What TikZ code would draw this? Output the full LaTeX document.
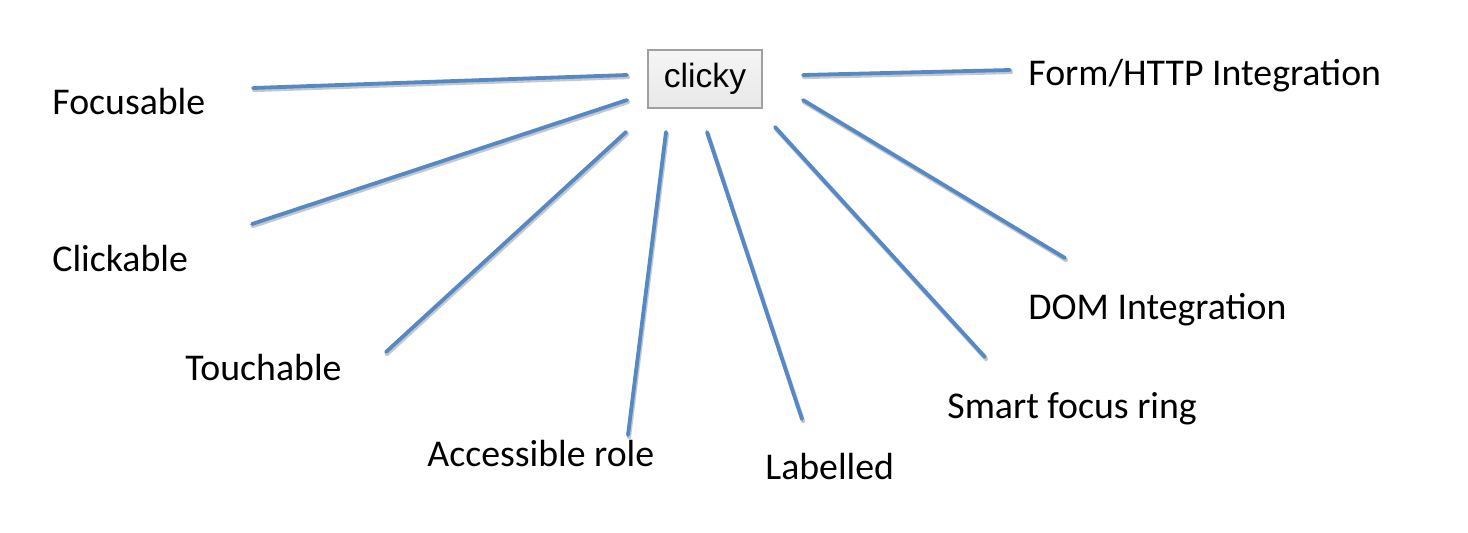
\documentclass[tikz,border=0pt]{standalone}
\usepackage{fontspec}
\setmainfont{Carlito}
\newfontfamily\buttonfont{Liberation Sans}
\definecolor{spokeblue}{RGB}{84,137,198}
\definecolor{btnline}{RGB}{160,160,160}

\begin{document}
\begin{tikzpicture}[x=0.5pt,y=-0.5pt]
\tikzset{
  spoke/.style={line width=1.9pt, color=spokeblue, line cap=round},
  spokeshadow/.style={line width=2.1pt, color=black!22, line cap=round},
  feature/.style={anchor=base west, inner sep=0pt, font=\fontsize{18.9}{22}\selectfont},
}
\useasboundingbox (0,0) rectangle (1468,532);

% the button in the middle
\node[draw=btnline, line width=0.8pt, top color=white!96!black, bottom color=black!9,
      minimum width=57pt, minimum height=29pt, inner sep=0pt,
      font=\buttonfont\fontsize{16.8}{18}\selectfont] (button) at (705,79) {clicky};

% features
\node[feature] (focus) at (52,114) {Focusable};
\node[feature] (click) at (52,271) {Clickable};
\node[feature] (touch) at (185,380) {Touchable};
\node[feature] (role) at (427,466) {Accessible role};
\node[feature] (label) at (765,479) {Labelled};
\node[feature] (ring) at (947,418) {Smart focus ring};
\node[feature] (dom) at (1028,319) {DOM Integration};
\node[feature] (form) at (1028,85) {Form/HTTP Integration};

% spoke ends
\coordinate (focus-a) at (253,88);   \coordinate (focus-b) at (627,75);
\coordinate (click-a) at (252,224);  \coordinate (click-b) at (627,100);
\coordinate (touch-a) at (386,352);  \coordinate (touch-b) at (626,132);
\coordinate (role-a) at (628,435);   \coordinate (role-b) at (666,132);
\coordinate (label-a) at (802,419);  \coordinate (label-b) at (707,132);
\coordinate (ring-a) at (985,357);   \coordinate (ring-b) at (775,127);
\coordinate (dom-a) at (1065,258);   \coordinate (dom-b) at (803,100);
\coordinate (form-a) at (1010,70);   \coordinate (form-b) at (803,75);

\foreach \s in {focus,click,touch,role,label,ring,dom,form}{
  \draw[spokeshadow] ([shift={(1,2)}]\s-a) -- ([shift={(1,2)}]\s-b);
  \draw[spoke] (\s-a) -- (\s-b);
}
\end{tikzpicture}
\end{document}
